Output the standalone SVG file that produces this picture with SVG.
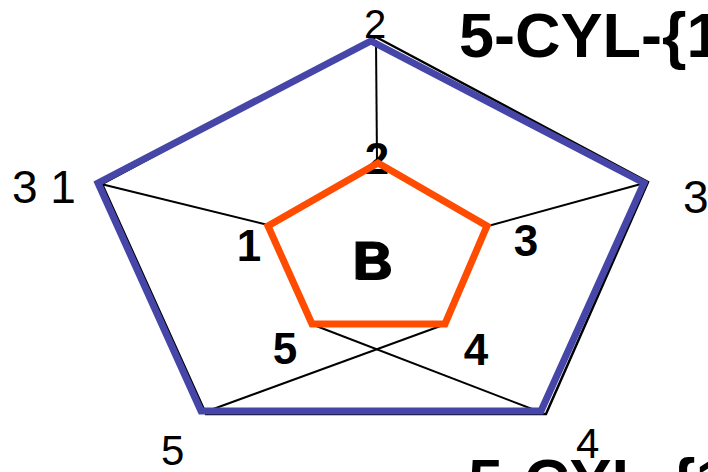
<svg xmlns="http://www.w3.org/2000/svg" width="708" height="472" viewBox="0 0 708 472">
<style>
.lbl{font-family:"Liberation Sans",Arial,sans-serif;fill:#000}
.in{font-size:44px;font-weight:bold}
.title{font-size:63px;font-weight:bold}
.conn{stroke:#000;stroke-width:2;fill:none}
</style>
<rect width="708" height="472" fill="#fff"/>
<g id="outer-shadow">
<polygon points="376,37 648,182 546,414 206,414 102,184" fill="none" stroke="#000" stroke-width="2.5" stroke-linejoin="miter"/>
</g>
<g id="connectors">
<line class="conn" x1="376" y1="40" x2="377" y2="162"/>
<line class="conn" x1="101" y1="184" x2="268" y2="225"/>
<line class="conn" x1="641" y1="184" x2="488" y2="226"/>
<line class="conn" x1="205" y1="412" x2="446" y2="324"/>
<line class="conn" x1="540" y1="412" x2="311" y2="324"/>
</g>
<g id="outer">
<polygon points="371,41 644,183 541,411 201,411 98,183" fill="none" stroke="#4646A8" stroke-width="7" stroke-linejoin="miter"/>
</g>
<g id="inner-label-2">
<text class="lbl in" x="377" y="174" text-anchor="middle">2</text>
</g>
<g id="inner">
<polygon points="378,163 487,226 445,324 312,324 268,226" fill="none" stroke="#FF4C00" stroke-width="7" stroke-linejoin="miter"/>
</g>
<g id="center-B">
<text class="lbl" x="374" y="280" text-anchor="middle" font-size="54" font-weight="bold" fill="#777">B</text>
<text class="lbl" x="372" y="279" text-anchor="middle" font-size="54" font-weight="bold" stroke="#000" stroke-width="1">B</text>
</g>
<g id="inner-labels">
<text class="lbl in" x="249" y="261" text-anchor="middle">1</text>
<text class="lbl in" x="526" y="256" text-anchor="middle">3</text>
<text class="lbl in" x="285" y="364" text-anchor="middle">5</text>
<text class="lbl in" x="476" y="365" text-anchor="middle">4</text>
</g>
<g id="outer-labels">
<text class="lbl" x="375" y="38" text-anchor="middle" font-size="40">2</text>
<text class="lbl" x="12" y="203" font-size="46">3 1</text>
<text class="lbl" x="683" y="213" font-size="46">3</text>
<text class="lbl" x="161" y="465" font-size="42">5</text>
<text class="lbl" x="576" y="458" font-size="42">4</text>
</g>
<g id="titles">
<text class="lbl title" x="459" y="57">5-CYL-{1</text>
<text class="lbl title" x="468" y="503">5-CYL-{1</text>
</g>
</svg>
